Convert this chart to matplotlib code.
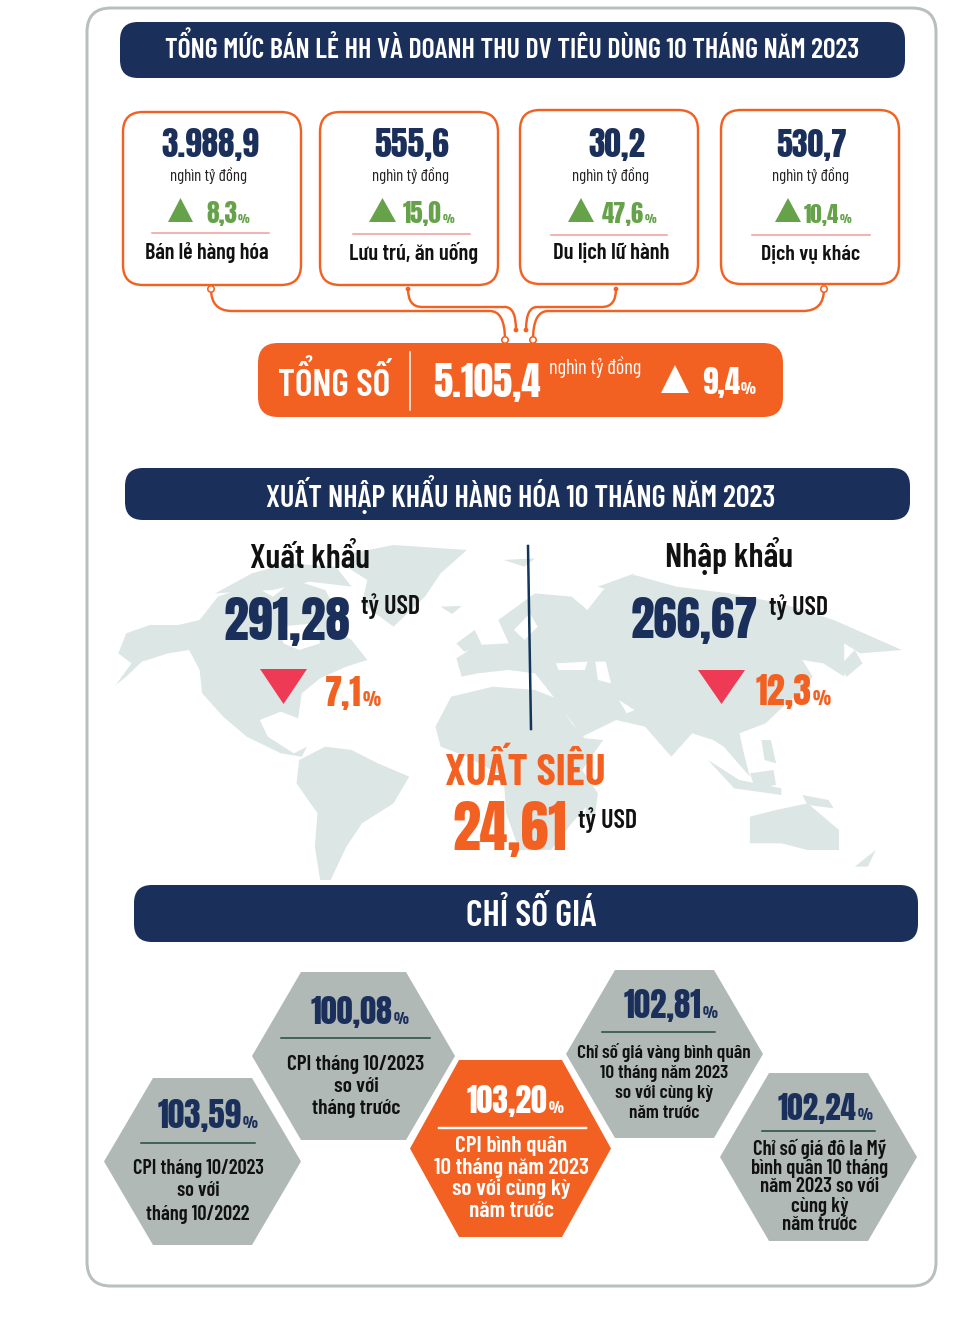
import matplotlib
matplotlib.use("Agg")
import matplotlib.pyplot as plt
from matplotlib.patches import FancyBboxPatch, Polygon, PathPatch, Circle
from matplotlib.path import Path

NAVY = "#1B2F5B"
ORANGE = "#F36122"
GREEN = "#66A24A"
RED = "#EE3A55"
GREY = "#B1B9B7"
MAP = "#DCE6E5"
NUM_FONT = ["Anton", "League Gothic", "Roboto", "DejaVu Sans"]
TEXT_FONT = ["Barlow Condensed", "Fira Sans Extra Condensed", "Roboto", "DejaVu Sans"]

# data
titles = ["TỔNG MỨC BÁN LẺ HH VÀ DOANH THU DV TIÊU DÙNG 10 THÁNG NĂM 2023",
          "XUẤT NHẬP KHẨU HÀNG HÓA 10 THÁNG NĂM 2023",
          "CHỈ SỐ GIÁ"]
sector_names = ["Bán lẻ hàng hóa", "Lưu trú, ăn uống", "Du lịch lữ hành", "Dịch vụ khác"]
sector_values = ["3.988,9", "555,6", "30,2", "530,7"]
sector_growth = ["8,3", "15,0", "47,6", "10,4"]
total_value = "5.105,4"
total_growth = "9,4"
unit_vnd = "nghìn tỷ đồng"
unit_usd = "tỷ USD"
export_value, export_change = "291,28", "7,1"
import_value, import_change = "266,67", "12,3"
surplus_value = "24,61"
price_values = ["103,59", "100,08", "103,20", "102,81", "102,24"]
price_labels = [["CPI tháng 10/2023", "so với", "tháng 10/2022"],
                ["CPI tháng 10/2023", "so với", "tháng trước"],
                ["CPI bình quân", "10 tháng năm 2023", "so với cùng kỳ", "năm trước"],
                ["Chỉ số giá vàng bình quân", "10 tháng năm 2023", "so với cùng kỳ", "năm trước"],
                ["Chỉ số giá đô la Mỹ", "bình quân 10 tháng", "năm 2023 so với", "cùng kỳ", "năm trước"]]

fig = plt.figure(figsize=(9.79, 13.25), dpi=100)
ax = fig.add_axes([0, 0, 1, 1])
ax.set_xlim(0, 979)
ax.set_ylim(1325, 0)
ax.axis("off")
rend = fig.canvas.get_renderer()


def px(v):
    return v * 0.72


def txt(x, y, s, size, color="black", weight=500, ha="center", va="center", width=None, font=TEXT_FONT):
    t = ax.text(x, y, s, fontsize=px(size), color=color, fontweight=weight, ha=ha, va=va,
                family=font, zorder=5)
    if width:
        t.set_fontsize(t.get_fontsize() * width / t.get_window_extent(rend).width)
    return t


def num(x, y, s, width, color, ha="left"):
    return txt(x, y, s, 50, color, "normal", ha, "baseline", width, NUM_FONT)


def with_pct(x, y, value, width, color, pct_size):
    # number with the small percent sign right after it
    t = num(x, y, value, width, color)
    x1 = t.get_window_extent(rend).x1
    txt(x1 + 1, y, "%", pct_size, color, "normal", "left", "baseline", font=NUM_FONT)


def rbox(x0, y0, x1, y1, r, face, edge="none", lw=0, z=2):
    ax.add_patch(FancyBboxPatch((x0 + r, y0 + r), x1 - x0 - 2 * r, y1 - y0 - 2 * r,
                                boxstyle=f"round,pad={r},rounding_size={r}",
                                fc=face, ec=edge, lw=px(lw), zorder=z))


def tri(x0, x1, y_base, y_tip, color):
    ax.add_patch(Polygon([(x0, y_base), (x1, y_base), ((x0 + x1) / 2, y_tip)], fc=color, ec="none", zorder=4))


def hexagon(x0, x1, y0, y1, inset, color):
    ym = (y0 + y1) / 2
    ax.add_patch(Polygon([(x0, ym), (x0 + inset, y0), (x1 - inset, y0), (x1, ym),
                          (x1 - inset, y1), (x0 + inset, y1)], fc=color, ec="none", zorder=2))


def connector(pts, dots):
    (a, b, c, d, e, f) = pts
    verts = [a, b, c, d, e, f]
    codes = [Path.MOVETO, Path.CURVE3, Path.CURVE3, Path.LINETO, Path.CURVE3, Path.CURVE3]
    ax.add_patch(PathPatch(Path(verts, codes), fc="none", ec=ORANGE, lw=px(2.4), zorder=1))
    for p in dots:
        ax.add_patch(Circle(p, 3.2, fc="white", ec=ORANGE, lw=px(1.6), zorder=3))


def zoomed(points):
    # outlines were traced on the zoomed crop of the map
    return [(100 + zx / 1.908, 530 + zy / 3) for zx, zy in points]


# frame
rbox(87, 8, 936, 1286, 24, "white", "#B8C0BE", 3, 0)

# title bars
rbox(120, 22, 905, 78, 18, NAVY)
txt(512, 48, titles[0], 26, "white", 600, width=696)
rbox(125, 468, 910, 520, 18, NAVY)
txt(521, 494, titles[1], 26, "white", 600, width=511)
rbox(134, 885, 918, 942, 18, NAVY)
txt(531, 915, titles[2], 30, "white", 600, width=131)

# sector cards
card_x = [(123, 301), (320, 498), (520, 698), (721, 899)]
card_y = [(112, 285), (112, 285), (110, 284), (110, 284)]
value_x = [210, 412, 617, 812]
value_w = [98, 75, 57, 71]
unit_x = [209, 411, 611, 811]
tri_x = [(168, 193), (369, 396), (568, 594), (775, 801)]
growth_x = [206, 403, 602, 804]
growth_w = [31, 39, 42, 35]
rule_x = [(152, 269), (353, 470), (551, 667), (752, 870)]
rule_y = [233, 234, 235, 235]
name_x = [207, 414, 611, 811]
name_y = [253, 253, 253, 255]
name_w = [124, 129, 117, 99]
for i in range(4):
    rbox(card_x[i][0], card_y[i][0], card_x[i][1], card_y[i][1], 20, "white", ORANGE, 2.4)
    num(value_x[i], 157, sector_values[i], value_w[i], NAVY, "center")
    txt(unit_x[i], 175, unit_vnd, 17, "#222222", 400, width=77)
    tri(tri_x[i][0], tri_x[i][1], 222, 198, GREEN)
    with_pct(growth_x[i], 223, sector_growth[i], growth_w[i], GREEN, 11)
    ax.plot(rule_x[i], [rule_y[i]] * 2, color="#F09A9A", lw=px(1.5), zorder=3)
    txt(name_x[i], name_y[i], sector_names[i], 20, "#111111", 600, width=name_w[i])

# connectors to the total box
connector([(211, 289), (211, 311), (232, 311), (490, 311), (505, 311), (505, 340)], [(211, 289), (505, 340)])
connector([(408, 289), (408, 307), (422, 307), (505, 307), (516, 307), (516, 330)], [])
connector([(616, 289), (616, 307), (602, 307), (537, 307), (526, 307), (526, 330)], [])
connector([(824, 289), (824, 311), (803, 311), (548, 311), (533, 311), (533, 340)], [(824, 289), (533, 340)])
for p in [(408, 289), (616, 289), (516, 330), (526, 330)]:
    ax.add_patch(Circle(p, 2.4, fc=ORANGE, ec="none", zorder=3))

# total box
rbox(258, 343, 783, 417, 20, ORANGE)
txt(278, 382, "TỔNG SỐ", 34, "white", 600, ha="left", width=112)
ax.plot([410, 410], [352, 410], color="white", lw=px(1.5), zorder=3)
num(433, 397, total_value, 108, "white")
txt(549, 367, unit_vnd, 20, "white", 400, ha="left", width=92)
tri(661, 689, 393, 365, "white")
with_pct(702, 394, total_growth, 38, "white", 14)

# world map behind the trade figures
land = [
    [(30, 465), (60, 400), (35, 370), (50, 310), (95, 285), (150, 285), (190, 270), (225, 200), (290, 165),
     (330, 200), (370, 150), (430, 180), (450, 240), (440, 290), (480, 330), (510, 390), (470, 410), (420, 445),
     (385, 490), (378, 565), (345, 545), (305, 570), (320, 620), (370, 670), (395, 650), (385, 680), (345, 670),
     (280, 620), (235, 560), (195, 490), (190, 420), (170, 360), (130, 370), (80, 395), (50, 440)],
    [(220, 190), (290, 130), (360, 100), (450, 110), (480, 170), (400, 155), (330, 180)],
    [(480, 70), (560, 45), (700, 60), (650, 130), (620, 200), (560, 290), (500, 220), (510, 150), (470, 110)],
    [(380, 690), (430, 650), (480, 660), (530, 700), (590, 740), (560, 820), (500, 880), (470, 950), (440, 1050),
     (420, 1050), (410, 950), (415, 850), (375, 760)],
    [(640, 590), (670, 500), (750, 470), (830, 480), (870, 505), (900, 580), (925, 625), (960, 630), (920, 720),
     (950, 790), (900, 880), (860, 960), (800, 960), (775, 850), (770, 740), (700, 680), (650, 650)],
    [(690, 440), (680, 385), (720, 345), (780, 340), (760, 270), (830, 190), (900, 200), (930, 240), (960, 180),
     (1020, 135), (1100, 170), (1200, 190), (1300, 220), (1400, 270), (1530, 360), (1450, 370), (1420, 340),
     (1420, 440), (1380, 400), (1340, 390), (1360, 440), (1335, 490), (1310, 520), (1270, 580), (1220, 610),
     (1230, 680), (1240, 740), (1190, 650), (1170, 630), (1130, 610), (1090, 680), (1040, 590), (985, 570),
     (920, 620), (870, 510), (850, 470), (830, 430), (780, 420), (720, 430)],
    [(1240, 860), (1290, 840), (1350, 820), (1410, 900), (1410, 960), (1350, 960), (1300, 940), (1240, 940)],
    [(1160, 690), (1220, 750), (1300, 775), (1300, 795), (1210, 775)],
    [(1340, 795), (1390, 810), (1400, 835), (1350, 825)],
    [(1240, 730), (1285, 720), (1290, 765), (1250, 775)],
    [(1262, 630), (1280, 630), (1290, 700), (1268, 690)],
    [(1410, 410), (1440, 360), (1455, 400), (1425, 440)],
    [(680, 340), (715, 300), (730, 350), (695, 365)],
    [(650, 230), (690, 228), (672, 252)],
    [(1440, 1010), (1480, 960), (1465, 1010)],
    [(770, 90), (830, 85), (810, 110)],
    [(950, 170), (1020, 130), (990, 190)],
    [(930, 800), (950, 790), (945, 850), (925, 860)],
]
water = [
    [(340, 290), (410, 280), (420, 340), (380, 360), (350, 340)],   # Hudson Bay
    [(870, 400), (930, 395), (925, 420), (875, 420)],               # Black Sea
    [(945, 395), (965, 395), (975, 460), (950, 450)],               # Caspian
    [(790, 300), (820, 250), (835, 290), (810, 330)],               # Baltic
    [(700, 445), (830, 435), (850, 470), (760, 465), (700, 470)],   # Mediterranean
    [(990, 510), (1020, 540), (1005, 550)],                         # Gulf
]
for outline in land:
    ax.add_patch(Polygon(zoomed(outline), fc=MAP, ec="none", zorder=1))
for outline in water:
    ax.add_patch(Polygon(zoomed(outline), fc="white", ec="none", zorder=1.5))

ax.plot([528, 531], [546, 729], color="#12355B", lw=px(2.5), zorder=3)

txt(310, 559, "Xuất khẩu", 32, "#111111", 600, width=120)
num(224, 640, export_value, 127, NAVY)
txt(361, 606, unit_usd, 24, "#111111", 600, "left", width=59)
tri(260, 307, 669, 704, RED)
with_pct(325, 706, export_change, 37, ORANGE, 17)

txt(729, 556, "Nhập khẩu", 32, "#111111", 600, width=128)
num(631, 638, import_value, 128, NAVY)
txt(769, 607, unit_usd, 24, "#111111", 600, "left", width=59)
tri(698, 745, 670, 704, RED)
with_pct(756, 705, import_change, 56, ORANGE, 17)

txt(445, 785, "XUẤT SIÊU", 42, ORANGE, 700, "left", "baseline", width=161)
num(452, 850, surplus_value, 115, ORANGE)
txt(578, 820, unit_usd, 24, "#111111", 600, "left", width=59)

# price index hexagons
hex_x = [(104, 301), (252, 455), (410, 611), (566, 763), (720, 917)]
hex_y = [(1078, 1245), (972, 1140), (1060, 1237), (970, 1138), (1073, 1241)]
hex_color = [GREY, GREY, ORANGE, GREY, GREY]
pct_x = [158, 311, 467, 624, 778]
pct_y = [1128, 1024, 1113, 1018, 1120]
pct_w = [84, 82, 81, 78, 79]
rule = [(141, 255, 1143), (281, 430, 1038), (439, 586, 1128), (602, 715, 1032), (762, 875, 1131)]
label_x = [198, 356, 511, 664, 820]
label_y = [[1168, 1191, 1215], [1064, 1086, 1108], [1146, 1168, 1189, 1211],
           [1053, 1073, 1093, 1113], [1149, 1168, 1187, 1206, 1225]]
label_w = [131, 138, 112, 174, 134]
for i in range(5):
    hexagon(hex_x[i][0], hex_x[i][1], hex_y[i][0], hex_y[i][1], 49, hex_color[i])
    light = hex_color[i] == ORANGE
    fg = "white" if light else NAVY
    with_pct(pct_x[i], pct_y[i], price_values[i], pct_w[i], fg, 14)
    ax.plot(rule[i][:2], [rule[i][2]] * 2, color="white" if light else "#1F4A3A",
            lw=px(2.4 if light else 1.5), zorder=3)
    first = txt(label_x[i], label_y[i][0], price_labels[i][0], 20, "white" if light else "#111111", 600,
                width=label_w[i])
    for line, y in zip(price_labels[i][1:], label_y[i][1:]):
        txt(label_x[i], y, line, first.get_fontsize() / 0.72, "white" if light else "#111111", 600)

fig.savefig("out.png", dpi=100)
